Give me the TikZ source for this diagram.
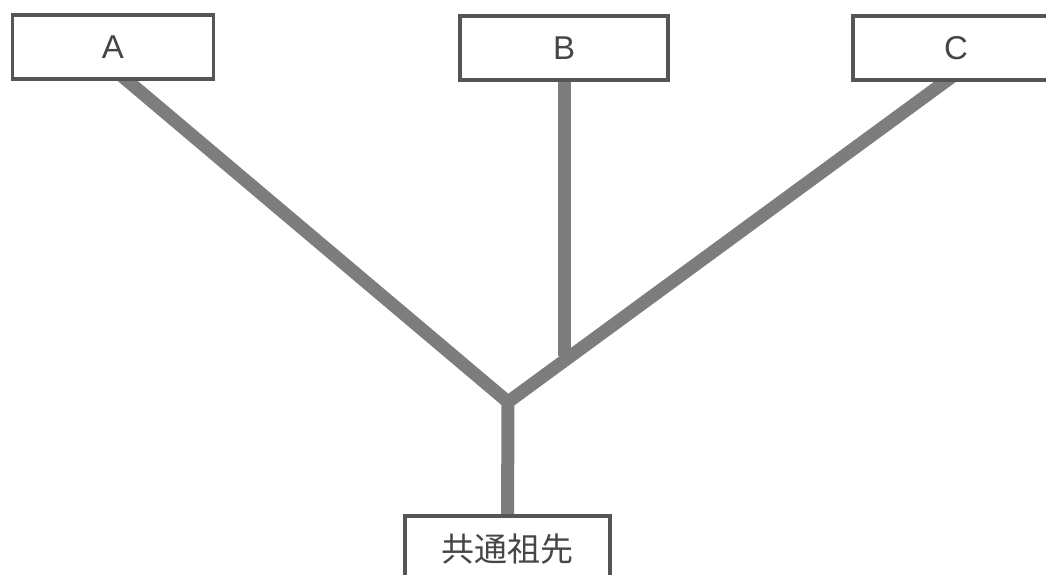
\documentclass[tikz,border=0pt]{standalone}
\usepackage{fontspec}
\setmainfont{Liberation Sans}
\newfontfamily\cjk{Noto Sans CJK JP}
\usetikzlibrary{backgrounds}
\definecolor{boxline}{RGB}{85,85,85}
\definecolor{boxtext}{RGB}{70,70,70}
\definecolor{branchgray}{RGB}{125,125,125}
\begin{document}
\begin{tikzpicture}[x=1pt,y=-1pt,
  box/.style={draw=boxline, line width=3.5pt, fill=white, inner sep=0pt, minimum height=64pt, font=\fontsize{33}{36}\selectfont, text=boxtext},
  branch/.style={draw=branchgray, line width=13pt}]
\useasboundingbox (0,0) rectangle (1046,575);
\clip (0,0) rectangle (1046,575);
\coordinate (J) at (508,402);
\node[box, minimum width=201pt] (A) at (113,47) {A};
\node[box, minimum width=208pt] (B) at (564,48) {B};
\node[box, minimum width=206pt] (C) at (956,48) {C};
\node[box, minimum width=205pt, minimum height=66pt] (R) at (507.5,549) {\cjk 共通祖先};
\begin{scope}[on background layer]
\fill[white] (0,0) rectangle (1046,575);
\coordinate (At) at ([xshift=5pt,yshift=8pt]A.south);
\coordinate (Ct) at ([yshift=8pt]C.south);
\coordinate (Rt) at ([yshift=-8pt]R.north);
\path (J) -- (Ct) coordinate[pos=0.14] (Bend);
\draw[branch] (At) -- (J) -- (Rt);
\draw[branch] (Ct) -- (J);
\draw[branch] ([yshift=8pt]B.south) -- (B.south |- Bend);
\end{scope}
\end{tikzpicture}
\end{document}
